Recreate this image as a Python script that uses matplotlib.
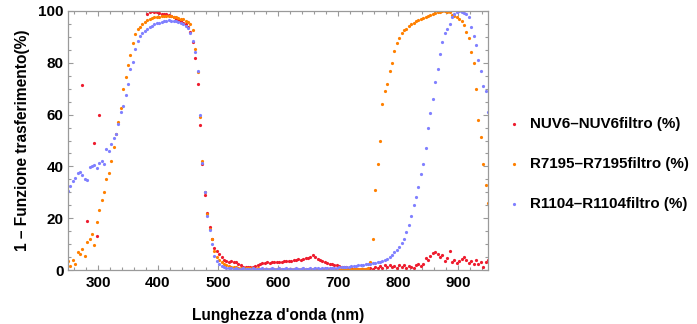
import numpy as np
import matplotlib
matplotlib.use("Agg")
import matplotlib.pyplot as plt
from matplotlib.lines import Line2D
from matplotlib.ticker import MultipleLocator

nan = np.nan

# wavelength grid (nm)
wavelength = np.arange(250, 951, 4)

labels = ["NUV6\u2013NUV6filtro (%)", "R7195\u2013R7195filtro (%)", "R1104\u2013R1104filtro (%)"]
colors = ["#ee1c2e", "#ff8000", "#8080ff"]

nuv6 = [
    nan, nan, nan, nan, nan, nan, 71.5, nan, 19.0, nan, nan, 49.0, 13.3, 60.0, nan, nan, nan, nan, nan, nan, nan, nan, nan, nan, nan,
    nan, nan, nan, nan, nan, nan, nan, nan, 99.0, 99.6, 100.0, 99.8, 99.5, 99.2, 99.0, 99.0, 98.8, 98.5, 98.0, 97.5, 97.0, 96.5, 96.0, 95.5, 95.0,
    94.0, 92.0, 88.0, 82.0, 72.0, 56.0, 41.0, 29.0, 22.0, 16.5, 12.0, 8.5, 7.5, 6.0, 5.0, 4.0, 3.5, 3.2, 3.3, 3.0, 3.2, 2.5, 1.8, 1.3, 1.2,
    1.0, 1.2, 1.3, 1.5, 1.8, 2.4, 2.8, 2.7, 2.9, 2.8, 3.0, 2.9, 3.1, 3.2, 3.0, 3.4, 3.3, 3.6, 3.5, 3.9, 3.7, 4.1, 4.0, 4.3, 4.5,
    4.6, 5.2, 5.8, 5.0, 4.4, 3.9, 3.4, 3.0, 2.6, 2.4, 2.3, 2.0, 1.8, 1.5, 1.3, 1.1, 1.0, 0.9, 0.7, 0.5, 0.3, 0.4, 0.3, 0.2, 0.3,
    0.5, 0.8, 0.3, 1.2, 0.6, 1.5, 0.8, 1.8, 1.0, 2.0, 1.2, 1.6, 0.8, 2.0, 1.3, 1.8, 0.9, 1.6, 1.2, 0.7, 1.8, 2.3, 1.6, 2.2, 4.5,
    3.8, 5.5, 6.5, 6.9, 6.3, 5.2, 5.8, 3.5, 4.8, 7.3, 3.2, 4.0, 2.8, 3.3, 4.2, 4.9, 3.8, 2.6, 3.5, 2.4, 3.9, 2.2, 3.0, 1.0, 3.2,
    3.9,
]

r7195 = [
    3.5, 1.5, 3.8, 2.5, 7.0, 6.3, 8.0, 5.5, 11.0, 12.0, 14.0, 9.5, 18.5, 23.0, 27.0, 30.0, 35.0, 37.5, 42.0, 47.5, 52.5, 57.0, 62.5, 70.0, 74.5,
    79.0, 83.0, 87.5, 91.0, 93.0, 94.0, 95.0, 95.8, 96.4, 97.0, 97.3, 97.5, 97.7, 97.8, 97.9, 98.0, 98.0, 97.9, 97.9, 97.8, 97.6, 97.4, 97.1, 96.8, 96.3,
    95.8, 95.0, 92.5, 85.5, 76.5, 59.0, 42.0, 30.0, 21.5, 16.0, 12.0, 7.5, 5.0, 3.8, 3.0, 2.5, 2.0, 1.6, 1.3, 1.1, 1.0, 0.9, 0.8, 0.8, 0.7,
    0.7, 0.6, 0.6, 0.5, 0.6, 0.5, 0.5, 0.4, 0.5, 0.5, 0.4, 0.5, 0.4, 0.4, 0.5, 0.4, 0.4, 0.3, 0.4, 0.4, 0.3, 0.4, 0.3, 0.3, 0.4,
    0.3, 0.3, 0.4, 0.3, 0.3, 0.2, 0.3, 0.3, 0.2, 0.3, 0.2, 0.2, 0.3, 0.2, 0.2, 0.3, 0.2, 0.2, 0.2, 0.3, 0.2, 0.2, 0.3, 0.2, 0.3,
    0.6, 3.0, 12.0, 31.0, 41.0, 50.0, 64.0, 69.0, 72.0, 77.0, 80.0, 84.5, 87.5, 89.5, 91.5, 92.5, 93.0, 94.2, 95.0, 95.5, 96.0, 96.5, 97.0, 97.3, 97.8,
    98.2, 98.5, 99.0, 99.3, 99.5, 99.7, 100.0, 100.0, 99.8, 99.5, 98.5, 98.0, 97.5, 97.0, 96.0, 94.5, 92.0, 89.5, 84.0, 80.0, 70.0, 58.0, 51.5, 41.0, 33.0,
    26.0,
]

r1104 = [
    30.5, 32.5, 34.5, 35.5, 37.5, 38.0, 36.5, 35.0, 34.8, 39.8, 40.2, 40.5, 39.5, 41.5, 42.0, 41.0, 46.8, 46.0, 48.5, 51.0, 52.5, 56.5, 61.0, 63.5, 67.5,
    72.0, 77.5, 80.5, 85.5, 88.5, 90.2, 91.5, 92.4, 93.0, 93.7, 94.3, 94.8, 95.2, 95.5, 95.8, 96.0, 96.2, 96.4, 96.3, 96.2, 96.0, 95.7, 95.4, 95.0, 94.4,
    93.3, 91.5, 88.5, 84.0, 77.0, 60.0, 41.5, 30.0, 21.0, 15.5, 10.0, 5.5, 3.5, 2.2, 1.5, 1.2, 0.9, 0.7, 0.6, 0.5, 0.6, 0.4, 0.5, 0.6, 0.5,
    0.4, 0.5, 0.6, 0.5, 0.4, 0.5, 0.6, 0.5, 0.5, 0.4, 0.6, 0.5, 0.5, 0.6, 0.4, 0.5, 0.6, 0.5, 0.5, 0.4, 0.6, 0.5, 0.5, 0.6, 0.5,
    0.5, 0.6, 0.5, 0.7, 0.6, 0.5, 0.6, 0.7, 0.6, 0.7, 0.7, 0.8, 0.9, 1.0, 1.1, 1.2, 1.3, 1.3, 1.4, 1.5, 1.6, 1.8, 2.0, 2.1, 2.2,
    2.3, 2.4, 2.6, 2.7, 2.9, 3.1, 3.4, 3.7, 4.2, 4.9, 5.6, 6.8, 7.8, 9.0, 10.3, 12.0, 14.5, 17.5, 21.0, 25.0, 28.0, 32.0, 37.0, 41.0, 47.0,
    55.0, 60.5, 66.0, 72.5, 77.5, 83.5, 88.0, 91.5, 93.0, 95.0, 97.5, 99.0, 99.8, 100.0, 99.5, 99.3, 99.0, 97.5, 94.0, 90.5, 87.0, 81.0, 77.0, 71.0, 69.0,
    61.0,
]

series = [nuv6, r7195, r1104]

x_ticks = [300, 400, 500, 600, 700, 800, 900]
y_ticks = [0, 20, 40, 60, 80, 100]

plt.rcParams['font.family'] = ['Liberation Sans', 'DejaVu Sans']
plt.rcParams['font.weight'] = 'bold'

W, H = 697, 324
fig = plt.figure(figsize=(W / 100, H / 100), dpi=100)
ax = fig.add_axes([68 / W, 54 / H, 420 / W, 259 / H])

for vals, col in zip(series, colors):
    ax.plot(wavelength, vals, linestyle='none', marker='o', ms=2.3,
            mec='none', mfc=col)

ax.set_xlim(250, 950)
ax.set_ylim(0, 100)
ax.set_xticks(x_ticks)
ax.set_yticks(y_ticks)
ax.xaxis.set_minor_locator(MultipleLocator(20))
ax.yaxis.set_minor_locator(MultipleLocator(5))

frame_col = '#9a9a9a'
for s in ax.spines.values():
    s.set_color(frame_col)
    s.set_linewidth(0.9)
ax.tick_params(which='both', direction='in', top=True, right=True,
               color=frame_col, width=0.8, labelcolor='black', labelsize=11)
ax.tick_params(which='major', length=3.6)
ax.tick_params(which='minor', length=2.2)
ax.tick_params(axis='x', which='major', pad=4)
ax.tick_params(axis='y', which='major', pad=3)
for lab in ax.get_xticklabels() + ax.get_yticklabels():
    lab.set_fontweight('bold')

ax.set_xlabel("Lunghezza d'onda (nm)", fontsize=11.2, fontweight='bold', labelpad=13)
ax.set_ylabel("1 \u2013 Funzione trasferimento(%)", fontsize=11.2, fontweight='bold', labelpad=6)

# legend
rows_y = [124, 164, 204]
for lab, col, yy in zip(labels, colors, rows_y):
    fig.add_artist(Line2D([514 / W], [1 - yy / H], transform=fig.transFigure,
                          linestyle='none', marker='o', ms=2.3, mec='none', mfc=col))
    fig.text(530 / W, 1 - yy / H, lab, fontsize=10.9, fontweight='bold',
             va='center', ha='left', color='black')

fig.savefig("out.png", dpi=100)
